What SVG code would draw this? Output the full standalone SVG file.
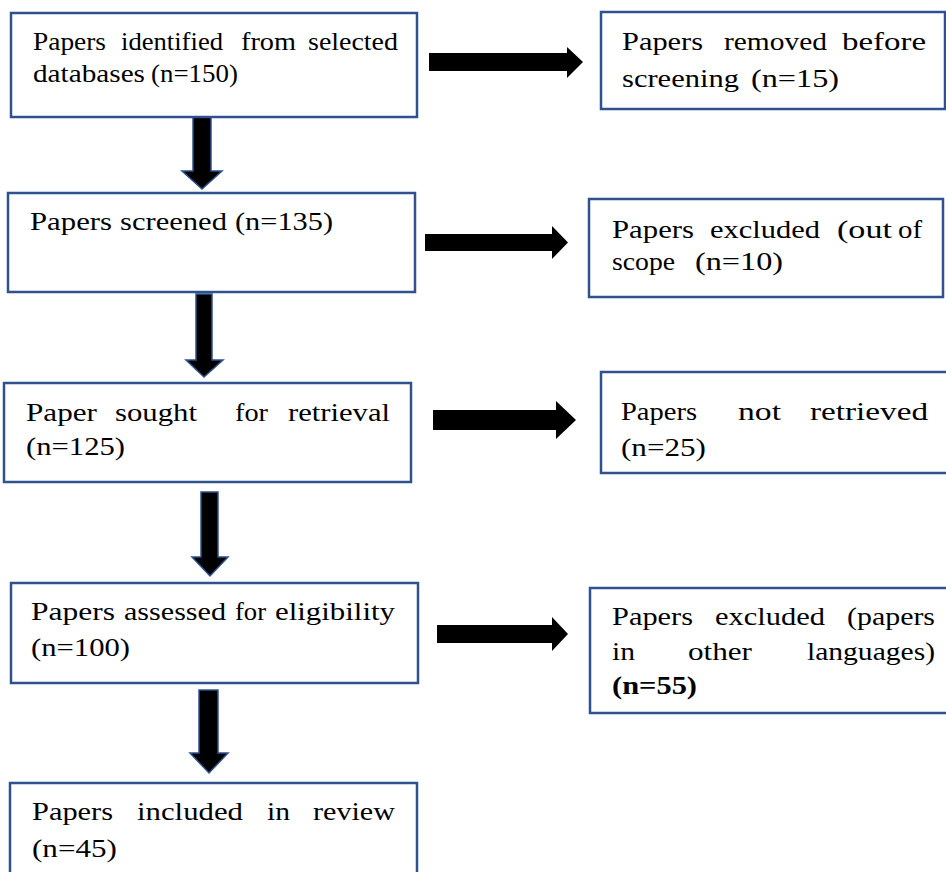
<svg xmlns="http://www.w3.org/2000/svg" width="946" height="872" viewBox="0 0 946 872">
<style>
.box{fill:#fff;stroke:#2F528F;stroke-width:2.5}
text{font-family:'Liberation Serif','DejaVu Serif','Noto Serif',serif;font-size:25.5px;fill:#000}
.down{fill:#000;stroke:#2F528F;stroke-width:1.5;stroke-linejoin:miter}
.right{fill:#000}
</style>
<rect width="946" height="872" fill="#fff"/>
<g id="connectors">
<polygon class="down" points="193,112 211,112 211,171 222,171 202,189 182,171 193,171"/>
<polygon class="down" points="196,294 212,294 212,360 223,360 204,377 186,360 196,360"/>
<polygon class="down" points="201,492 218,492 218,557 228,557 210,576 192,557 201,557"/>
<polygon class="down" points="199,690 218,690 218,753 228,753 209,773 190,753 199,753"/>
<polygon class="right" points="429,53 567,53 567,47 583,62 567,78 567,71 429,71"/>
<polygon class="right" points="425,234 552,234 552,226 568,242.5 552,259 552,251 425,251"/>
<polygon class="right" points="433,410 556,410 556,401 576,420 556,439 556,430 433,430"/>
<polygon class="right" points="437,625 552,625 552,617 568,634 552,651 552,643 437,643"/>
</g>
<g id="n1">
<rect class="box" x="11" y="13" width="406" height="104"/>
<text y="50"><tspan x="33" textLength="73" lengthAdjust="spacingAndGlyphs">Papers</tspan> <tspan x="121" textLength="102" lengthAdjust="spacingAndGlyphs">identified</tspan> <tspan x="241" textLength="55" lengthAdjust="spacingAndGlyphs">from</tspan> <tspan x="308" textLength="90" lengthAdjust="spacingAndGlyphs">selected</tspan></text>
<text y="82"><tspan x="33" textLength="112" lengthAdjust="spacingAndGlyphs">databases</tspan> <tspan x="151" textLength="87" lengthAdjust="spacingAndGlyphs">(n=150)</tspan></text>
</g>
<g id="n2">
<rect class="box" x="601" y="12" width="344" height="97"/>
<text y="50"><tspan x="622" textLength="81" lengthAdjust="spacingAndGlyphs">Papers</tspan> <tspan x="724" textLength="103" lengthAdjust="spacingAndGlyphs">removed</tspan> <tspan x="842" textLength="84" lengthAdjust="spacingAndGlyphs">before</tspan></text>
<text y="87"><tspan x="622" textLength="117" lengthAdjust="spacingAndGlyphs">screening</tspan> <tspan x="751" textLength="88" lengthAdjust="spacingAndGlyphs">(n=15)</tspan></text>
</g>
<g id="n3">
<rect class="box" x="8" y="193" width="407" height="99"/>
<text y="230"><tspan x="30" textLength="82" lengthAdjust="spacingAndGlyphs">Papers</tspan> <tspan x="120" textLength="107" lengthAdjust="spacingAndGlyphs">screened</tspan> <tspan x="235" textLength="98" lengthAdjust="spacingAndGlyphs">(n=135)</tspan></text>
</g>
<g id="n4">
<rect class="box" x="589" y="199" width="354" height="98"/>
<text y="238"><tspan x="612" textLength="82" lengthAdjust="spacingAndGlyphs">Papers</tspan> <tspan x="710" textLength="110" lengthAdjust="spacingAndGlyphs">excluded</tspan> <tspan x="837" textLength="55" lengthAdjust="spacingAndGlyphs">(out</tspan> <tspan x="898" textLength="24" lengthAdjust="spacingAndGlyphs">of</tspan></text>
<text y="270"><tspan x="612" textLength="63" lengthAdjust="spacingAndGlyphs">scope</tspan> <tspan x="695" textLength="88" lengthAdjust="spacingAndGlyphs">(n=10)</tspan></text>
</g>
<g id="n5">
<rect class="box" x="4" y="383" width="407" height="99"/>
<text y="421"><tspan x="26" textLength="71" lengthAdjust="spacingAndGlyphs">Paper</tspan> <tspan x="115" textLength="82" lengthAdjust="spacingAndGlyphs">sought</tspan> <tspan x="235" textLength="33" lengthAdjust="spacingAndGlyphs">for</tspan> <tspan x="288" textLength="102" lengthAdjust="spacingAndGlyphs">retrieval</tspan></text>
<text y="455"><tspan x="26" textLength="99" lengthAdjust="spacingAndGlyphs">(n=125)</tspan></text>
</g>
<g id="n6">
<rect class="box" x="601" y="372" width="350" height="101"/>
<text y="420"><tspan x="621" textLength="76" lengthAdjust="spacingAndGlyphs">Papers</tspan> <tspan x="738" textLength="43" lengthAdjust="spacingAndGlyphs">not</tspan> <tspan x="810" textLength="118" lengthAdjust="spacingAndGlyphs">retrieved</tspan></text>
<text y="456"><tspan x="621" textLength="85" lengthAdjust="spacingAndGlyphs">(n=25)</tspan></text>
</g>
<g id="n7">
<rect class="box" x="11" y="583" width="407" height="100"/>
<text y="620"><tspan x="31" textLength="84" lengthAdjust="spacingAndGlyphs">Papers</tspan> <tspan x="124" textLength="102" lengthAdjust="spacingAndGlyphs">assessed</tspan> <tspan x="235" textLength="31" lengthAdjust="spacingAndGlyphs">for</tspan> <tspan x="275" textLength="120" lengthAdjust="spacingAndGlyphs">eligibility</tspan></text>
<text y="656"><tspan x="31" textLength="99" lengthAdjust="spacingAndGlyphs">(n=100)</tspan></text>
</g>
<g id="n8">
<rect class="box" x="590" y="588" width="360" height="125"/>
<text y="625"><tspan x="612" textLength="81" lengthAdjust="spacingAndGlyphs">Papers</tspan> <tspan x="715" textLength="110" lengthAdjust="spacingAndGlyphs">excluded</tspan> <tspan x="847" textLength="88" lengthAdjust="spacingAndGlyphs">(papers</tspan></text>
<text y="660"><tspan x="612" textLength="23" lengthAdjust="spacingAndGlyphs">in</tspan> <tspan x="688" textLength="64" lengthAdjust="spacingAndGlyphs">other</tspan> <tspan x="807" textLength="128" lengthAdjust="spacingAndGlyphs">languages)</tspan></text>
<text y="694" font-weight="bold"><tspan x="612" textLength="85" lengthAdjust="spacingAndGlyphs">(n=55)</tspan></text>
</g>
<g id="n9">
<rect class="box" x="10" y="783" width="407" height="100"/>
<text y="820"><tspan x="32" textLength="81" lengthAdjust="spacingAndGlyphs">Papers</tspan> <tspan x="137" textLength="106" lengthAdjust="spacingAndGlyphs">included</tspan> <tspan x="267" textLength="23" lengthAdjust="spacingAndGlyphs">in</tspan> <tspan x="313" textLength="82" lengthAdjust="spacingAndGlyphs">review</tspan></text>
<text y="857"><tspan x="32" textLength="85" lengthAdjust="spacingAndGlyphs">(n=45)</tspan></text>
</g>
</svg>
